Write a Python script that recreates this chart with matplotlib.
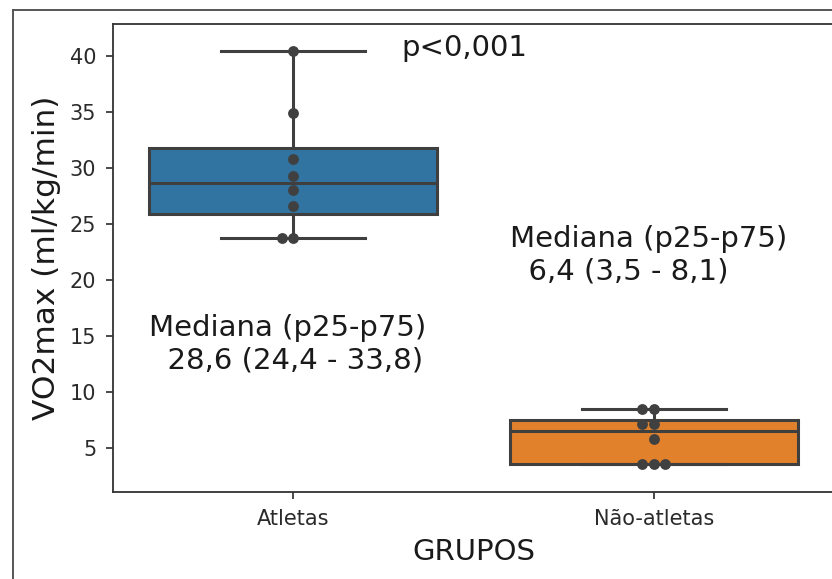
import matplotlib
matplotlib.use("Agg")
import matplotlib.pyplot as plt
import seaborn as sns
import pandas as pd
from matplotlib.lines import Line2D

# Categories and per-subject VO2max values (ml/kg/min)
groups = ["Atletas", "Não-atletas"]
vo2_atletas = [40.4, 34.9, 30.8, 29.3, 28.0, 26.6, 23.8, 23.8]
vo2_nao_atletas = [8.5, 8.5, 7.2, 7.2, 5.8, 3.6, 3.6, 3.6]

# Summary annotations
summary_labels = ["Mediana (p25-p75)\n  28,6 (24,4 - 33,8)",
                  "Mediana (p25-p75)\n  6,4 (3,5 - 8,1)"]
summary_pos = [(-0.40, 12.1), (0.60, 20.1)]
p_label = "p<0,001"
p_pos = (0.30, 40.0)

y_ticks = [5, 10, 15, 20, 25, 30, 35, 40]
box_colors = ["#3274a1", "#e1812c"]
line_gray = "#3f3f3f"

W, H = 832, 579
fig = plt.figure(figsize=(W / 100, H / 100), dpi=100)
fig.patch.set_facecolor("white")

left, right, top, bottom = 113, 834, 24, 492
ax = fig.add_axes([left / W, 1 - bottom / H, (right - left) / W, (bottom - top) / H])

data = [vo2_atletas, vo2_nao_atletas]
bp = ax.boxplot(data, positions=[0, 1], widths=0.8, patch_artist=True,
                whis=1.5, showfliers=False,
                medianprops=dict(color=line_gray, linewidth=2.2),
                whiskerprops=dict(color=line_gray, linewidth=2.2),
                capprops=dict(color=line_gray, linewidth=2.2),
                boxprops=dict(edgecolor=line_gray, linewidth=2.2))
for patch, c in zip(bp["boxes"], box_colors):
    patch.set_facecolor(c)

df = pd.DataFrame({
    "grupo": [groups[0]] * len(vo2_atletas) + [groups[1]] * len(vo2_nao_atletas),
    "vo2": vo2_atletas + vo2_nao_atletas,
})
sns.swarmplot(data=df, x="grupo", y="vo2", order=groups, color=".25",
              size=7.8, ax=ax, zorder=3)

ax.set_xlim(-0.5, 1.5)
ax.set_ylim(1.1, 42.85)
ax.set_xticks([0, 1])
ax.set_xticklabels(groups)
ax.set_yticks(y_ticks)
ax.tick_params(axis="both", labelsize=15, length=5, width=1.2,
               colors="#2a2a2a", pad=7)
for s in ax.spines.values():
    s.set_color("#333333")
    s.set_linewidth(1.3)

ax.set_xlabel("GRUPOS", fontsize=21, color="#1a1a1a", labelpad=7)
ax.set_ylabel("VO2max (ml/kg/min)", fontsize=22.5, color="#1a1a1a", labelpad=6)

ax.text(p_pos[0], p_pos[1], p_label, fontsize=21, color="#1a1a1a")
for (x, y), lab in zip(summary_pos, summary_labels):
    ax.text(x, y, lab, fontsize=21, color="#1a1a1a")

# outer frame around the figure
fx, fy = 13 / W, 1 - 10 / H
fig.add_artist(Line2D([fx, fx], [0, fy], color="#555555", linewidth=1.4,
                      transform=fig.transFigure))
fig.add_artist(Line2D([fx, 1], [fy, fy], color="#555555", linewidth=1.4,
                      transform=fig.transFigure))

fig.savefig("out.png", dpi=100)
